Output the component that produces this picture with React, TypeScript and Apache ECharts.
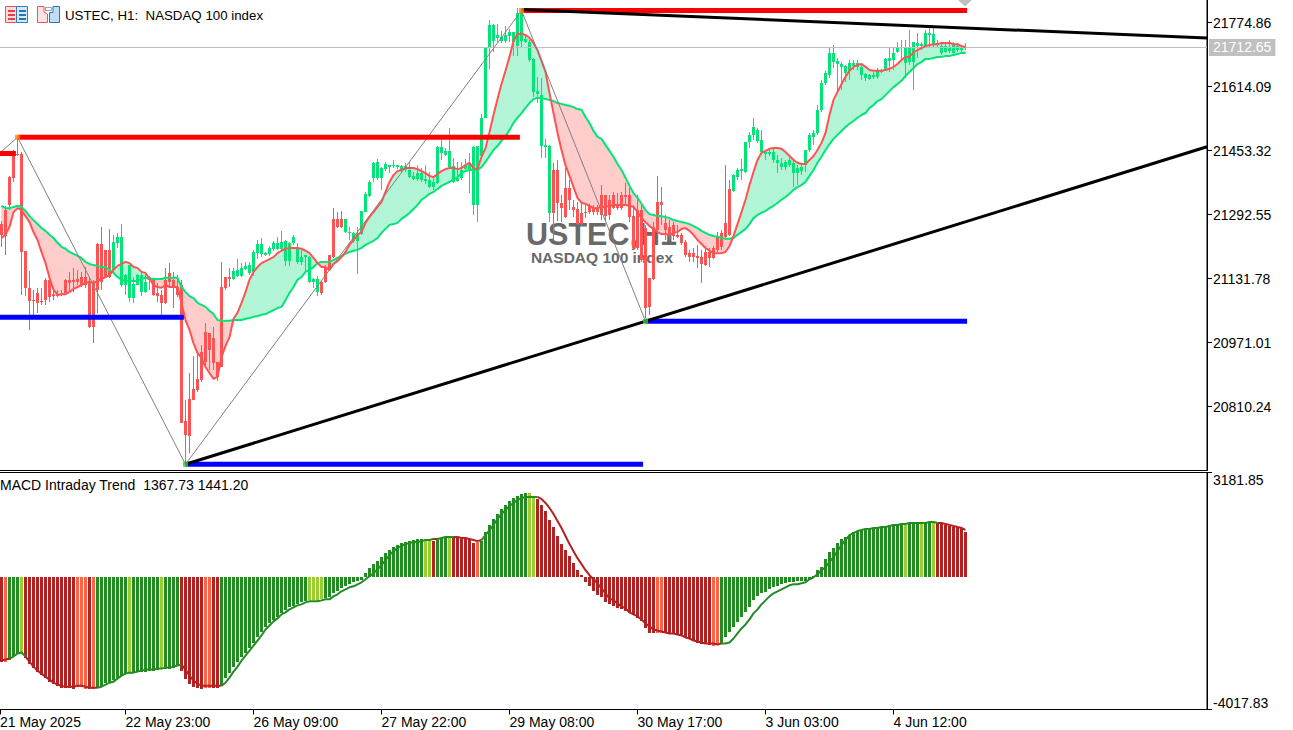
import React, { useEffect, useRef } from "react";
import * as echarts from "echarts";

const priceTicks = [21774.86, 21614.09, 21453.32, 21292.55, 21131.78, 20971.01, 20810.24];
const macdTicks = [-4017.83, 3181.85];
const timeTickBars = [-0.375, 31, 63, 95, 127, 159, 191, 223];
const timeLabels = ["21 May 2025", "22 May 23:00", "26 May 09:00", "27 May 22:00", "29 May 08:00", "30 May 17:00", "3 Jun 03:00", "4 Jun 12:00"];
const lastPrice = 21712.65;

const highs = [
21277,21315,21390,21455,21488,21450,21202,21151,21104,21109,
21109,21134,21136,21104,21104,21104,21131,21149,21159,21154,
21149,21161,21134,21129,21222,21262,21204,21257,21242,21247,
21269,21144,21166,21136,21144,21149,21146,21139,21131,21121,
21104,21159,21171,21149,21141,21129,20827,20895,20938,20948,
20965,21021,20995,21011,20923,21174,21136,21159,21159,21181,
21171,21174,21174,21204,21229,21234,21199,21214,21227,21237,
21252,21229,21224,21242,21222,21204,21191,21189,21134,21139,
21126,21166,21191,21309,21299,21302,21282,21262,21249,21262,
21302,21350,21380,21425,21433,21412,21425,21417,21430,21417,
21417,21423,21425,21400,21417,21410,21417,21400,21385,21465,
21483,21460,21510,21435,21425,21425,21433,21448,21465,21465,
21546,21714,21782,21772,21772,21754,21767,21759,21752,21812,
21809,21744,21732,21686,21639,21636,21483,21468,21423,21430,
21342,21410,21380,21330,21325,21320,21317,21320,21317,21317,
21367,21342,21342,21350,21347,21350,21372,21360,21317,21342,
21317,21267,21134,21274,21390,21362,21292,21279,21274,21267,
21247,21229,21204,21209,21217,21204,21214,21209,21214,21249,
21254,21417,21380,21395,21410,21433,21475,21500,21536,21510,
21505,21455,21455,21460,21443,21435,21430,21435,21435,21417,
21423,21455,21498,21505,21568,21631,21654,21714,21719,21686,
21676,21669,21681,21681,21681,21674,21649,21646,21651,21661,
21659,21686,21711,21711,21726,21732,21732,21757,21726,21749,
21726,21757,21762,21762,21732,21726,21721,21732,21726,21721,21719,21724];

const bodyTops = [
21269,21304,21387,21448,21445,21445,21202,21109,21078,21096,
21076,21129,21129,21093,21091,21093,21129,21129,21129,21131,
21136,21136,21121,21121,21219,21219,21204,21204,21224,21237,
21237,21141,21166,21119,21141,21141,21124,21136,21129,21096,
21091,21129,21146,21129,21111,21116,20774,20830,20855,20880,
20948,20998,20995,20983,20923,21111,21136,21136,21151,21154,
21159,21164,21166,21199,21219,21219,21196,21209,21222,21222,
21224,21227,21222,21237,21209,21186,21191,21186,21131,21131,
21124,21161,21191,21282,21282,21282,21282,21249,21247,21247,
21302,21345,21375,21423,21425,21410,21420,21417,21417,21417,
21415,21415,21405,21390,21397,21397,21382,21380,21375,21463,
21463,21453,21453,21415,21385,21405,21415,21423,21463,21465,
21536,21714,21769,21769,21744,21739,21744,21752,21752,21799,
21799,21734,21726,21684,21603,21593,21468,21465,21405,21405,
21322,21360,21360,21312,21307,21297,21299,21315,21309,21309,
21342,21342,21330,21342,21317,21342,21342,21342,21289,21304,
21304,21259,21134,21262,21325,21325,21272,21262,21267,21242,
21242,21224,21196,21196,21189,21186,21199,21199,21209,21237,
21247,21272,21357,21392,21405,21407,21475,21493,21513,21505,
21480,21450,21450,21450,21430,21423,21425,21430,21423,21410,
21412,21455,21493,21498,21556,21624,21649,21699,21699,21679,
21671,21666,21674,21674,21674,21664,21646,21644,21644,21656,
21656,21684,21686,21699,21714,21714,21711,21714,21726,21724,
21721,21749,21749,21747,21724,21716,21716,21711,21719,21716,21714,21714];

const bodyBottoms = [
21242,21239,21317,21385,21443,21199,21109,21076,21076,21071,
21073,21078,21086,21088,21088,21091,21096,21121,21124,21124,
21116,21116,21011,21011,21104,21124,21136,21136,21154,21222,
21116,21116,21083,21083,21116,21098,21098,21129,21091,21088,
21071,21071,21124,21111,21091,20769,20739,20737,20827,20852,
20877,20923,20953,20920,20885,20910,21109,21131,21131,21139,
21139,21156,21146,21149,21196,21194,21191,21194,21207,21207,
21207,21176,21176,21222,21174,21174,21186,21124,21124,21098,
21096,21124,21154,21186,21262,21262,21249,21247,21227,21227,
21244,21299,21340,21385,21385,21385,21407,21412,21415,21412,
21405,21405,21387,21382,21382,21380,21377,21362,21362,21372,
21448,21443,21412,21375,21377,21385,21407,21405,21317,21317,
21440,21536,21714,21729,21737,21729,21729,21742,21726,21716,
21729,21726,21681,21601,21596,21465,21463,21297,21297,21322,
21309,21287,21330,21304,21269,21269,21297,21299,21299,21299,
21292,21289,21292,21309,21309,21309,21337,21287,21209,21209,
21179,21058,21061,21131,21254,21317,21254,21242,21239,21237,
21222,21191,21186,21186,21184,21169,21166,21184,21184,21204,
21212,21237,21242,21352,21387,21402,21400,21475,21493,21478,
21450,21445,21445,21430,21423,21412,21412,21417,21397,21397,
21402,21417,21455,21488,21498,21556,21624,21644,21676,21671,
21664,21649,21654,21666,21664,21644,21636,21634,21639,21639,
21651,21656,21679,21681,21701,21711,21674,21676,21676,21716,
21716,21716,21744,21719,21719,21699,21701,21704,21699,21706,21706,21711];

const lows = [
21212,21191,21304,21375,21440,21091,21088,21003,21041,21046,
21066,21066,21073,21078,21086,21088,21093,21096,21098,21116,
21111,21109,21008,20970,21046,21104,21134,21134,21149,21209,
21111,21091,21073,21071,21116,21088,21096,21104,21088,21073,
21041,21068,21111,21058,21086,20769,20666,20694,20827,20847,
20872,20915,20903,20903,20875,20910,21104,21111,21129,21136,
21136,21154,21141,21139,21181,21186,21189,21189,21202,21204,
21199,21164,21164,21217,21169,21166,21149,21121,21109,21088,
21091,21121,21151,21184,21259,21259,21247,21229,21222,21144,
21242,21299,21337,21375,21380,21355,21402,21397,21410,21407,
21400,21400,21385,21380,21377,21375,21370,21360,21355,21370,
21430,21440,21410,21372,21375,21380,21405,21347,21292,21274,
21435,21536,21659,21701,21726,21724,21724,21726,21691,21691,
21711,21724,21676,21588,21573,21435,21435,21274,21229,21277,
21274,21284,21304,21287,21267,21264,21284,21294,21292,21292,
21279,21274,21279,21307,21304,21304,21317,21274,21204,21204,
21174,21033,21041,21129,21249,21267,21229,21229,21229,21234,
21217,21186,21174,21174,21159,21121,21164,21161,21181,21199,
21204,21229,21239,21350,21380,21380,21397,21460,21480,21473,
21443,21430,21440,21423,21397,21405,21405,21412,21362,21367,
21392,21400,21450,21468,21493,21551,21618,21636,21661,21601,
21606,21626,21631,21656,21656,21631,21629,21631,21634,21634,
21649,21654,21651,21656,21699,21681,21636,21669,21606,21686,
21706,21714,21711,21714,21711,21694,21699,21699,21696,21701,21699,21706];

const fastMA = [
21234,21242,21262,21299,21309,21304,21289,21274,21249,21229,
21199,21171,21134,21104,21091,21093,21093,21098,21106,21111,
21116,21121,21124,21121,21126,21131,21136,21141,21154,21164,
21169,21174,21171,21161,21159,21149,21146,21131,21116,21111,
21109,21116,21111,21111,21111,21071,21028,21003,20970,20945,
20933,20910,20895,20880,20885,20935,20963,20985,21031,21046,
21071,21098,21129,21149,21161,21171,21176,21181,21186,21196,
21202,21207,21209,21209,21209,21207,21202,21196,21184,21171,
21161,21161,21154,21169,21176,21186,21199,21217,21229,21242,
21249,21272,21287,21299,21312,21325,21350,21375,21392,21402,
21405,21410,21410,21410,21407,21402,21397,21390,21387,21395,
21402,21407,21410,21410,21407,21410,21417,21423,21410,21407,
21438,21460,21500,21543,21583,21621,21654,21689,21729,21747,
21747,21744,21737,21724,21706,21679,21651,21598,21548,21498,
21455,21417,21390,21362,21335,21322,21320,21315,21309,21309,
21312,21312,21315,21317,21317,21317,21317,21315,21312,21299,
21284,21274,21264,21257,21249,21244,21244,21242,21247,21249,
21257,21259,21252,21242,21229,21219,21209,21202,21196,21196,
21196,21199,21214,21239,21269,21299,21330,21367,21400,21430,
21448,21453,21458,21460,21460,21458,21450,21440,21430,21423,
21420,21420,21430,21440,21455,21473,21498,21543,21581,21601,
21621,21639,21654,21664,21669,21671,21664,21656,21654,21654,
21654,21656,21659,21664,21671,21681,21689,21689,21701,21706,
21711,21716,21719,21721,21721,21724,21724,21724,21721,21721,21716,21714];

const slowMA = [
21315,21309,21309,21312,21315,21312,21302,21289,21279,21269,
21259,21252,21242,21234,21222,21212,21207,21199,21194,21189,
21184,21174,21169,21166,21164,21161,21161,21154,21146,21136,
21129,21126,21126,21126,21126,21131,21134,21131,21131,21131,
21131,21134,21134,21134,21134,21111,21098,21088,21083,21071,
21066,21061,21051,21043,21028,21026,21026,21026,21028,21028,
21028,21031,21033,21036,21038,21041,21043,21048,21053,21058,
21061,21078,21096,21111,21129,21136,21149,21154,21161,21171,
21174,21174,21174,21179,21184,21189,21194,21199,21202,21204,
21209,21217,21222,21227,21234,21247,21257,21267,21269,21272,
21282,21289,21297,21307,21317,21330,21337,21345,21350,21357,
21365,21370,21375,21380,21387,21397,21402,21405,21405,21405,
21412,21425,21440,21455,21465,21478,21490,21505,21523,21536,
21548,21561,21573,21583,21586,21586,21583,21581,21578,21573,
21571,21568,21566,21563,21558,21556,21538,21523,21503,21488,
21483,21468,21453,21438,21420,21405,21385,21365,21347,21335,
21320,21304,21294,21292,21289,21289,21287,21284,21279,21277,
21274,21272,21269,21264,21259,21252,21247,21242,21239,21237,
21234,21232,21232,21234,21242,21249,21257,21269,21284,21292,
21297,21302,21309,21315,21322,21330,21337,21345,21355,21362,
21367,21375,21390,21405,21423,21438,21455,21470,21483,21493,
21503,21513,21521,21528,21536,21543,21548,21561,21568,21578,
21583,21593,21603,21613,21621,21629,21641,21651,21661,21671,
21676,21684,21684,21686,21689,21689,21691,21691,21694,21696,21699,21699];

const macdHist = [
-2562,-2562,-2501,-2379,-2318,-2318,-2440,-2623,-2745,-2867,
-2959,-3050,-3172,-3233,-3294,-3355,-3355,-3355,-3386,-3325,
-3325,-3386,-3386,-3386,-3355,-3294,-3203,-3172,-3111,-3050,
-2989,-2928,-2928,-2898,-2867,-2867,-2867,-2837,-2837,-2806,
-2776,-2776,-2776,-2745,-2684,-2837,-3081,-3233,-3325,-3355,
-3386,-3355,-3355,-3355,-3355,-3294,-3050,-2898,-2715,-2562,
-2410,-2288,-2135,-1983,-1830,-1678,-1525,-1403,-1312,-1220,
-1098,-1007,-915,-885,-824,-763,-732,-702,-702,-702,
-671,-641,-610,-488,-427,-336,-275,-214,-153,-122,
-92,122,275,397,488,610,732,824,915,976,
1037,1068,1098,1129,1159,1159,1159,1159,1098,1159,
1190,1220,1220,1220,1220,1220,1190,1159,1037,1068,
1098,1373,1586,1769,1922,2074,2196,2318,2410,2471,
2532,2562,2562,2440,2379,2196,2013,1739,1525,1251,
1007,824,641,427,214,61,-153,-275,-427,-549,
-610,-763,-824,-885,-946,-976,-1037,-1098,-1159,-1251,
-1342,-1556,-1708,-1708,-1708,-1708,-1708,-1708,-1739,-1739,
-1769,-1830,-1861,-1922,-1983,-2013,-2013,-2044,-2074,-2044,
-2013,-1830,-1678,-1525,-1373,-1220,-1068,-915,-702,-580,
-488,-458,-366,-305,-275,-214,-183,-153,-153,-122,
-122,-122,-92,31,214,305,549,763,885,1037,
1159,1220,1281,1373,1403,1434,1464,1495,1495,1525,
1525,1556,1586,1586,1617,1617,1586,1647,1647,1647,
1647,1647,1647,1647,1647,1617,1586,1556,1525,1525,1495,1367.73];

const macdSignal = [
-2532,-2501,-2471,-2410,-2318,-2288,-2410,-2562,-2715,-2837,
-2928,-3020,-3111,-3203,-3264,-3294,-3325,-3325,-3325,-3294,
-3294,-3325,-3355,-3355,-3355,-3325,-3264,-3203,-3172,-3081,
-2989,-2928,-2898,-2898,-2867,-2837,-2806,-2806,-2806,-2776,
-2776,-2745,-2745,-2715,-2684,-2654,-2806,-2989,-3142,-3233,
-3294,-3294,-3294,-3294,-3294,-3294,-3203,-3050,-2867,-2715,
-2532,-2379,-2227,-2074,-1922,-1769,-1586,-1464,-1342,-1251,
-1129,-1068,-976,-915,-854,-824,-763,-732,-732,-732,
-702,-671,-671,-580,-519,-427,-366,-305,-275,-214,
-153,-61,31,122,244,366,519,671,793,885,
946,1007,1037,1068,1068,1098,1129,1129,1159,1159,
1190,1220,1220,1220,1220,1190,1190,1159,1129,1098,
1129,1281,1434,1586,1769,1922,2044,2166,2257,2349,
2410,2440,2440,2440,2440,2379,2257,2105,1922,1708,
1495,1251,1007,793,580,397,214,61,-61,-183,
-336,-488,-641,-702,-793,-885,-946,-1068,-1129,-1190,
-1281,-1403,-1495,-1586,-1617,-1647,-1678,-1708,-1708,-1739,
-1769,-1830,-1861,-1922,-1952,-1983,-2013,-2013,-2013,-2044,
-2013,-2013,-1983,-1861,-1708,-1556,-1434,-1281,-1098,-976,
-824,-702,-580,-488,-427,-366,-305,-244,-214,-214,
-183,-153,-61,0,92,214,305,458,610,793,
976,1129,1281,1342,1403,1434,1464,1464,1495,1495,
1525,1525,1556,1586,1586,1617,1617,1647,1647,1647,
1647,1647,1678,1678,1647,1647,1617,1586,1556,1525,1495,1441.2];

// run lengths of the histogram colour state, bar after bar
const histStateRuns: [string, number][] = [
["R",1],["O",1],["G",3],["Y",1],["R",13],["O",3],["R",1],["O",1],["G",8],["Y",1],["G",7],["Y",1],["G",4],
["R",6],["O",2],["R",2],["G",22],["Y",4],["G",25],["Y",2],["R",1],["G",3],["Y",1],["R",6],["O",1],["G",12],["Y",2],
["R",30],["O",2],["R",12],["O",2],["G",46],["Y",1],["G",3],["Y",1],["G",2],["Y",1],["R",8]];

const swingHighs = [[4, 21487], [130, 21805.5]];
const swingLows = [[46, 20665.6], [161, 21024.8]];
const zigzag = [[-0.375, 21448], [4, 21487], [46, 20665.6], [130, 21805.5], [161, 21024.8]];
const resistanceLevels = [
  [[-1.6, 21446.3], [3.6, 21446.3]],
  [[4, 21487], [129.6, 21487]],
  [[130, 21805.5], [241.4, 21805.5]],
];
const supportLevels = [
  [[-1.6, 21034.8], [45.6, 21034.8]],
  [[46, 20665.6], [160.4, 20665.6]],
  [[161, 21024.8], [241.4, 21024.8]],
];
const trendUp = [[46, 20665.6], [301.375, 21463.4]];
const trendDown = [[130, 21808], [301.375, 21736.4]];

const GREEN = "#00E676";
const RED = "#FF5252";
const HIST_COLORS: Record<string, string> = { R: "#B22222", O: "#FF6347", G: "#228B22", Y: "#9ACD32" };
const FONT = '"Liberation Sans", Arial, sans-serif';
const X_MIN = -1.625;
const X_MAX = 301.375;

const histStates: string[] = histStateRuns.flatMap(([s, n]) => Array(n).fill(s));
const isRedState = (i: number) => histStates[i] === "R" || histStates[i] === "O";

function App() {
  const ref = useRef<HTMLDivElement>(null);
  useEffect(() => {
    document.body.style.margin = "0";
    const chart = echarts.init(ref.current!, undefined, { renderer: "svg" });
    const barIndex = highs.map((_, i) => i);

    const cloudItem = (params: any, api: any) => {
      const i = api.value(0);
      if (i >= fastMA.length - 1) return null;
      const f0 = fastMA[i], s0 = slowMA[i], f1 = fastMA[i + 1], s1 = slowMA[i + 1];
      const color = (up: boolean) => (up ? "#B2F5D6" : "#FFCCCC");
      const poly = (pts: number[][], up: boolean) => {
        const fill = color(up);
        return {
          type: "polygon",
          shape: { points: pts.map((p) => api.coord(p)) },
          style: { fill, stroke: fill, lineWidth: 0.6 },
        };
      };
      const d0 = f0 - s0, d1 = f1 - s1;
      if (d0 * d1 < 0) {
        const t = d0 / (d0 - d1);
        const cross = [i + t, f0 + (f1 - f0) * t];
        return {
          type: "group",
          children: [
            poly([[i, f0], cross, [i, s0]], d0 >= 0),
            poly([cross, [i + 1, f1], [i + 1, s1]], d1 >= 0),
          ],
        };
      }
      return poly([[i, f0], [i + 1, f1], [i + 1, s1], [i, s0]], d0 + d1 >= 0);
    };

    const candleItem = (params: any, api: any) => {
      const i = api.value(0);
      const color = fastMA[i] >= slowMA[i] ? GREEN : RED;
      const cx = api.coord([i, highs[i]])[0];
      const yH = Math.round(api.coord([i, highs[i]])[1]);
      const yT = Math.round(api.coord([i, bodyTops[i]])[1]);
      const yB = Math.round(api.coord([i, bodyBottoms[i]])[1]);
      const yL = Math.round(api.coord([i, lows[i]])[1]);
      return {
        type: "group",
        children: [
          { type: "rect", shape: { x: cx - 0.5, y: yH, width: 1, height: Math.max(1, yL - yH) }, style: { fill: color } },
          { type: "rect", shape: { x: cx - 1.5, y: yT, width: 3, height: Math.max(1, yB - yT) }, style: { fill: color } },
        ],
      };
    };

    const histItem = (params: any, api: any) => {
      const i = api.value(0);
      const [cx, y1] = api.coord([i, macdHist[i]]);
      const y0 = api.coord([i, 0])[1];
      const top = Math.round(Math.min(y0, y1));
      const bottom = Math.round(Math.max(y0, y1));
      return {
        type: "rect",
        shape: { x: cx - 1.5, y: top, width: 3, height: Math.max(1, bottom - top) },
        style: { fill: HIST_COLORS[histStates[i]] },
      };
    };

    const maLine = (data: number[], color: string) => ({
      type: "line",
      xAxisIndex: 0,
      yAxisIndex: 0,
      data: data.map((v, i) => [i, v]),
      showSymbol: false,
      silent: true,
      z: 5,
      lineStyle: { color, width: 2 },
    });
    const objectLine = (data: number[][], color: string, width: number, z: number) => ({
      type: "line",
      xAxisIndex: 0,
      yAxisIndex: 0,
      data,
      showSymbol: false,
      silent: true,
      z,
      lineStyle: { color, width, cap: "butt" },
    });
    const signalLine = (pred: (i: number) => boolean, color: string) => ({
      type: "line",
      xAxisIndex: 1,
      yAxisIndex: 1,
      data: macdSignal.map((v, i) => [i, pred(i) || (i > 0 && pred(i - 1)) ? v : null]),
      showSymbol: false,
      silent: true,
      connectNulls: false,
      z: 5,
      lineStyle: { color, width: 2 },
    });

    const icon = (x: number, name: number) => {
      const els: any[] = [];
      if (name === 0) {
        els.push(
          { type: "rect", shape: { x: x + 0.5, y: 6.5, width: 11, height: 16 }, style: { fill: "#FBDCDC", stroke: "#E05A5A", lineWidth: 1 } },
          { type: "rect", shape: { x: x + 11.5, y: 6.5, width: 11, height: 16 }, style: { fill: "#D7E8F6", stroke: "#2F7FC0", lineWidth: 1 } },
        );
        [10, 14, 18].forEach((y) => {
          els.push({ type: "rect", shape: { x: x + 3, y, width: 7, height: 2 }, style: { fill: "#E84040" } });
          els.push({ type: "rect", shape: { x: x + 14, y, width: 7, height: 2 }, style: { fill: "#1E78C0" } });
        });
      } else {
        els.push(
          { type: "polygon", shape: { points: [[x + 0.5, 6.5], [x + 7, 6.5], [x + 7, 12], [x + 10.5, 14], [x + 10.5, 22.5], [x + 0.5, 22.5]] }, style: { fill: "#FDE3E3", stroke: "#E05A5A", lineWidth: 1 } },
          { type: "polygon", shape: { points: [[x + 12.5, 12.5], [x + 16, 12.5], [x + 16, 6.5], [x + 22.5, 6.5], [x + 22.5, 22.5], [x + 12.5, 22.5]] }, style: { fill: "#BFDDF5", stroke: "#1E78C0", lineWidth: 1 } },
          { type: "rect", shape: { x: x + 8.5, y: 7.5, width: 6, height: 3 }, style: { fill: "#fff", stroke: "#A0A0A0", lineWidth: 1 } },
        );
      }
      return els;
    };

    chart.setOption({
      animation: false,
      backgroundColor: "#fff",
      textStyle: { fontFamily: FONT },
      grid: [
        { left: -5, top: -5, width: 1212, height: 475.5, show: true, borderColor: "#000", borderWidth: 1, backgroundColor: "transparent", outerBoundsMode: "none" },
        { left: -5, top: 472.5, width: 1212, height: 237, show: true, borderColor: "#000", borderWidth: 1, backgroundColor: "transparent", outerBoundsMode: "none" },
      ],
      xAxis: [
        { type: "value", gridIndex: 0, min: X_MIN, max: X_MAX, show: false, splitLine: { show: false } },
        {
          type: "value",
          gridIndex: 1,
          min: X_MIN,
          max: X_MAX,
          splitLine: { show: false },
          axisLine: { show: true, onZero: false, lineStyle: { color: "#000", width: 1 } },
          axisTick: { show: true, customValues: timeTickBars, length: 5, lineStyle: { color: "#000" } },
          axisLabel: {
            show: true,
            customValues: timeTickBars,
            formatter: (v: number) => timeLabels[timeTickBars.indexOf(v)] ?? "",
            align: "left",
            margin: 5,
            color: "#000",
            fontSize: 14,
            fontFamily: FONT,
            hideOverlap: false,
          },
        },
      ],
      yAxis: [
        {
          type: "value",
          gridIndex: 0,
          position: "right",
          min: 20650.0,
          max: 21844.46,
          splitLine: { show: false },
          axisLine: { show: true, onZero: false, lineStyle: { color: "#000" } },
          axisTick: { show: true, customValues: priceTicks, length: 5, lineStyle: { color: "#000" } },
          axisLabel: {
            show: true,
            customValues: priceTicks,
            formatter: (v: number) => v.toFixed(2),
            margin: 6,
            color: "#000",
            fontSize: 14,
            fontFamily: FONT,
          },
        },
        {
          type: "value",
          gridIndex: 1,
          position: "right",
          min: -4017.83,
          max: 3181.85,
          splitLine: { show: false },
          axisLine: { show: true, onZero: false, lineStyle: { color: "#000" } },
          axisTick: { show: true, customValues: macdTicks, length: 5, lineStyle: { color: "#000" } },
          axisLabel: {
            show: true,
            customValues: macdTicks,
            formatter: (v: number) => v.toFixed(2),
            margin: 6,
            color: "#000",
            fontSize: 14,
            fontFamily: FONT,
            verticalAlignMaxLabel: "top",
            verticalAlignMinLabel: "bottom",
          },
        },
      ],
      graphic: {
        elements: [
          ...icon(5, 0),
          ...icon(37, 1),
          { type: "text", z: 0, style: { x: 65, y: 15, text: "USTEC, H1:  NASDAQ 100 index", fontSize: 13.3, fontFamily: FONT, fill: "#000", textVerticalAlign: "middle" } },
          { type: "text", z: 0, style: { x: 0, y: 485, text: "MACD Intraday Trend  1367.73 1441.20", fontSize: 14, fontFamily: FONT, fill: "#000", textVerticalAlign: "middle" } },
          { type: "text", z: 0, style: { x: 601.5, y: 234, text: "USTEC,H1", fontSize: 30.5, fontWeight: "bold", fontFamily: FONT, fill: "#696969", textAlign: "center", textVerticalAlign: "middle" } },
          { type: "text", z: 0, style: { x: 602, y: 257, text: "NASDAQ 100 index", fontSize: 15.5, fontWeight: "bold", fontFamily: FONT, fill: "#696969", textAlign: "center", textVerticalAlign: "middle" } },
          { type: "polygon", z: 9, shape: { points: [[958, 0], [972, 0], [965, 6.5]] }, style: { fill: "#C0C0C0" } },
        ],
      },
      series: [
        {
          type: "line",
          xAxisIndex: 0,
          yAxisIndex: 0,
          data: [],
          silent: true,
          z: 1,
          markLine: {
            silent: true,
            symbol: "none",
            animation: false,
            lineStyle: { color: "#C0C0C0", width: 1, type: "solid" },
            label: {
              position: "end",
              formatter: () => lastPrice.toFixed(2),
              color: "#fff",
              backgroundColor: "#C0C0C0",
              padding: [2, 4, 1, 4],
              fontSize: 14,
              fontFamily: FONT,
              distance: 2,
            },
            data: [{ yAxis: lastPrice }],
          },
        },
        {
          type: "custom",
          xAxisIndex: 0,
          yAxisIndex: 0,
          data: barIndex.map((i) => [i, fastMA[i]]),
          encode: { x: 0, y: 1 },
          renderItem: cloudItem,
          silent: true,
          clip: true,
          z: 2,
        },
        {
          type: "custom",
          xAxisIndex: 0,
          yAxisIndex: 0,
          data: barIndex.map((i) => [i, highs[i], bodyTops[i], bodyBottoms[i], lows[i]]),
          encode: { x: 0, y: [1, 2, 3, 4] },
          renderItem: candleItem,
          silent: true,
          clip: true,
          z: 3,
        },
        maLine(slowMA, GREEN),
        maLine(fastMA, RED),
        objectLine(zigzag, "#808080", 1, 6),
        ...resistanceLevels.map((d) => objectLine(d, "#FF0000", 5, 6)),
        ...supportLevels.map((d) => objectLine(d, "#0000FF", 5, 6)),
        objectLine(trendDown, "#000", 3, 7),
        objectLine(trendUp, "#000", 3, 7),
        {
          type: "scatter",
          xAxisIndex: 0,
          yAxisIndex: 0,
          data: swingHighs,
          symbol: "rect",
          symbolSize: 5,
          silent: true,
          itemStyle: { color: "#FF8C00" },
          z: 8,
        },
        {
          type: "scatter",
          xAxisIndex: 0,
          yAxisIndex: 0,
          data: swingLows,
          symbol: "rect",
          symbolSize: 5,
          silent: true,
          itemStyle: { color: "#32CD32" },
          z: 8,
        },
        {
          type: "custom",
          xAxisIndex: 1,
          yAxisIndex: 1,
          data: barIndex.map((i) => [i, macdHist[i], 0]),
          encode: { x: 0, y: [1, 2] },
          renderItem: histItem,
          silent: true,
          clip: true,
          z: 3,
        },
        signalLine((i) => !isRedState(i), "#228B22"),
        signalLine((i) => isRedState(i), "#B22222"),
      ],
    });
    return () => chart.dispose();
  }, []);
  return <div ref={ref} style={{ width: 1293, height: 730, overflow: "hidden" }} />;
}

export default App;
